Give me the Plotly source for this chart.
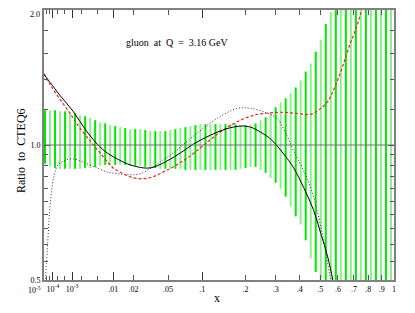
import numpy as np
import plotly.graph_objects as go

# ---------------- data ----------------
band_x = [1.44e-5, 5.64e-5, 1.436e-4, 2.93e-4, 5.20e-4, 8.42e-4, 1.275e-3, 1.836e-3,
          2.542e-3, 3.408e-3, 4.452e-3, 5.690e-3, 7.138e-3, 8.813e-3, 0.010733, 0.012912,
          0.015366, 0.018115, 0.021173, 0.024556, 0.028284, 0.032370, 0.036830, 0.041684,
          0.046948, 0.052636, 0.058765, 0.065355, 0.072418, 0.079968, 0.088032, 0.096621,
          0.10575, 0.11543, 0.12569, 0.13654, 0.14799, 0.16008, 0.17280, 0.18617,
          0.20022, 0.21496, 0.23040, 0.24658, 0.26348, 0.28115, 0.29957, 0.31881,
          0.33884, 0.35969, 0.38138, 0.40392, 0.42733, 0.45164, 0.47686, 0.50299,
          0.53006, 0.55807, 0.58707, 0.61704, 0.64803, 0.68003, 0.71307, 0.74716,
          0.78232, 0.81856, 0.85591, 0.89438, 0.93400, 0.97476]
band_hi = [1.195, 1.195, 1.195, 1.189, 1.189, 1.183, 1.177, 1.165,
           1.159, 1.148, 1.136, 1.124, 1.118, 1.107, 1.102, 1.096,
           1.091, 1.085, 1.085, 1.085, 1.080, 1.074, 1.074, 1.074,
           1.074, 1.080, 1.085, 1.091, 1.096, 1.102, 1.107, 1.113,
           1.113, 1.113, 1.113, 1.113, 1.113, 1.113, 1.113, 1.107,
           1.107, 1.107, 1.118, 1.136, 1.153, 1.177, 1.214, 1.245,
           1.271, 1.304, 1.344, 1.393, 1.458, 1.519, 1.615, 1.717,
           1.862, 1.980, 2.5, 2.5, 2.5, 2.5, 2.5, 2.5,
           2.5, 2.5, 2.5, 2.5, 2.5, 2.5]
band_lo = [0.908, 0.894, 0.889, 0.885, 0.885, 0.885, 0.885, 0.885,
           0.889, 0.889, 0.894, 0.899, 0.903, 0.903, 0.903, 0.903,
           0.903, 0.899, 0.899, 0.899, 0.894, 0.889, 0.889, 0.885,
           0.885, 0.885, 0.885, 0.885, 0.880, 0.880, 0.880, 0.880,
           0.880, 0.880, 0.880, 0.880, 0.880, 0.880, 0.880, 0.885,
           0.889, 0.894, 0.894, 0.880, 0.867, 0.845, 0.824, 0.799,
           0.767, 0.729, 0.693, 0.665, 0.613, 0.559, 0.521, 0.4,
           0.4, 0.4, 0.4, 0.4, 0.4, 0.4, 0.4, 0.4,
           0.4, 0.4, 0.4, 0.4, 0.4, 0.4]

solid_x = [1e-5, 5.7e-5, 2.9e-4, 1.09e-3, 2.54e-3, 4.92e-3, 7.79e-3, 0.01157, 0.01643,
           0.0225, 0.0324, 0.0470, 0.0654, 0.0848, 0.1155, 0.148, 0.1862, 0.215, 0.2466,
           0.2812, 0.3308, 0.3726, 0.418, 0.4668, 0.5031, 0.5413, 0.5753]
solid_y = [1.436, 1.379, 1.290, 1.189, 1.085, 1.005, 0.960, 0.931, 0.908,
           0.894, 0.889, 0.917, 0.960, 1.005, 1.052, 1.085, 1.102, 1.096, 1.068,
           1.031, 0.955, 0.889, 0.803, 0.714, 0.635, 0.562, 0.487]

dot_x = [1.43e-5, 2.7e-5, 4.5e-5, 7.0e-5, 1.22e-4, 2.25e-4, 4.68e-4, 1.09e-3, 2.54e-3,
         4.92e-3, 7.79e-3, 0.01157, 0.0181, 0.0246, 0.0324, 0.0417, 0.0563, 0.0848,
         0.130, 0.178, 0.215, 0.2705, 0.307, 0.339, 0.3726, 0.413, 0.4518, 0.4873,
         0.519, 0.552, 0.5697]
dot_y = [0.487, 0.568, 0.679, 0.771, 0.854, 0.903, 0.922, 0.931, 0.912,
         0.889, 0.871, 0.863, 0.858, 0.863, 0.885, 0.917, 0.960, 1.047,
         1.148, 1.207, 1.207, 1.177, 1.142, 1.063, 0.970, 0.885, 0.803, 0.703,
         0.613, 0.513, 0.475]

dash_x = [1e-5, 5.7e-5, 2.9e-4, 8.4e-4, 1.48e-3, 3.41e-3, 5.69e-3, 9.94e-3, 0.01435,
          0.0199, 0.02675, 0.035, 0.0448, 0.0588, 0.0754, 0.0966, 0.1215, 0.1528,
          0.1862, 0.2242, 0.2635, 0.3189, 0.3814, 0.4518, 0.5031, 0.5413, 0.5753,
          0.6172, 0.648, 0.6802, 0.7133, 0.7405, 0.7613]
dash_y = [1.443, 1.364, 1.264, 1.177, 1.113, 1.021, 0.960, 0.889, 0.863,
          0.845, 0.841, 0.850, 0.871, 0.899, 0.936, 0.985, 1.041, 1.096,
          1.136, 1.165, 1.177, 1.183, 1.177, 1.171, 1.207, 1.251, 1.330,
          1.458, 1.574, 1.699, 1.815, 1.939, 2.06]

xtick_vals = [1e-5, 1e-4, 1e-3, 0.01, 0.02, 0.05, 0.1, 0.2, 0.3, 0.4, 0.5, 0.6, 0.7, 0.8, 0.9, 1.0]
xtick_text = ["", "10<sup>-4</sup>", "10<sup>-3</sup>", ".01", ".02", ".05", ".1",
              ".2", ".3", ".4", ".5", ".6", ".7", ".8", ".9", "1"]
xfirst_label = "10<sup>-5</sup>"
xminor_vals = [2e-5, 5e-5, 2e-4, 5e-4, 2e-3, 5e-3]
xdecade_vals = [1e-4, 1e-3, 0.01, 0.1]

ytick_vals = [0.5, 1.0, 2.0]
ytick_text = ["0.5", "1.0", ""]
ytop_label = "2.0"
yminor_vals = [0.55, 0.6, 0.65, 0.7, 0.75, 0.8, 0.85, 0.9, 0.95, 1.2, 1.4, 1.6, 1.8]

title_text = "gluon  at  Q  =  3.16 GeV"
ylabel = "Ratio  to  CTEQ6"
xlabel = "x"


# x axis of the original uses an x^(1/3) scale
def sc(v):
    return np.cbrt(np.asarray(v, dtype=float))


SERIF = "Liberation Serif, DejaVu Serif, serif"

fig = go.Figure()

# error band drawn as vertical bars, alternating bright / light green
for parity, col in ((1, "rgb(140,240,140)"), (0, "rgb(0,232,0)")):
    xs, ys = [], []
    for i, (bx, lo, hi) in enumerate(zip(sc(band_x), band_lo, band_hi)):
        if i % 2 == parity:
            xs += [bx, bx, None]
            ys += [lo, hi, None]
    fig.add_trace(go.Scatter(x=xs, y=ys, mode="lines",
                             line=dict(color=col, width=2),
                             hoverinfo="skip", showlegend=False))

fig.add_hline(y=1.0, line=dict(color="#707070", width=1))

fig.add_trace(go.Scatter(x=sc(dot_x), y=dot_y, mode="lines",
                         line=dict(color="#303030", width=1, dash="1px,2px", shape="spline"),
                         showlegend=False))
fig.add_trace(go.Scatter(x=sc(dash_x), y=dash_y, mode="lines",
                         line=dict(color="rgb(235,40,40)", width=1.2, dash="3px,2px", shape="spline"),
                         showlegend=False))
fig.add_trace(go.Scatter(x=sc(solid_x), y=solid_y, mode="lines",
                         line=dict(color="black", width=1, shape="spline"),
                         showlegend=False))

# overlay axis only for longer decade ticks
fig.add_trace(go.Scatter(x=[], y=[], xaxis="x2", showlegend=False))

xr = [float(sc(1e-5)), 1.0]
# page body has an 8px margin; figure is sized/offset to compensate
fig.update_layout(
    template="none",
    width=407, height=305,
    margin=dict(l=36, r=21, t=2, b=33, autoexpand=False),
    paper_bgcolor="white", plot_bgcolor="white",
    font=dict(family=SERIF, color="black", size=8),
    showlegend=False,
    xaxis=dict(range=xr, tickmode="array", tickvals=sc(xtick_vals), ticktext=xtick_text,
               ticks="inside", ticklen=5, tickwidth=1, tickcolor="#555", tickangle=0,
               automargin=False, ticklabeloverflow="allow",
               showgrid=False, zeroline=False, showline=True, linecolor="#808080",
               linewidth=2, mirror="ticks", tickfont=dict(size=8, family=SERIF),
               minor=dict(tickmode="array", tickvals=sc(xminor_vals), ticks="inside",
                          ticklen=4, tickcolor="#555", showgrid=False)),
    xaxis2=dict(range=xr, overlaying="x", anchor="y", tickmode="array", automargin=False,
                tickvals=sc(xdecade_vals), ticks="inside", ticklen=8, tickwidth=1,
                tickcolor="#333", showticklabels=False, showgrid=False, zeroline=False,
                showline=False, mirror="ticks"),
    yaxis=dict(type="log", range=[np.log10(0.5), np.log10(2.0)], tickmode="array",
               tickvals=ytick_vals, ticktext=ytick_text, ticks="inside", ticklen=6,
               tickwidth=1, tickcolor="#444", showgrid=False, zeroline=False,
               automargin=False, ticklabeloverflow="allow",
               showline=True, linecolor="#808080", linewidth=2, mirror="ticks",
               tickfont=dict(size=8, family=SERIF),
               minor=dict(tickmode="array", tickvals=yminor_vals, ticks="inside",
                          ticklen=4, tickcolor="#555", showgrid=False)),
    annotations=[
        dict(text=title_text, xref="paper", yref="paper", x=0.38, y=0.907,
             showarrow=False, font=dict(size=10, family=SERIF, color="black")),
        dict(text=ylabel, xref="paper", yref="paper", x=-0.091, y=0.478, textangle=-90,
             showarrow=False, font=dict(size=12, family=SERIF, color="black")),
        dict(text=xlabel, xref="paper", yref="paper", x=0.494, y=-0.10,
             showarrow=False, font=dict(size=12, family=SERIF, color="black")),
        dict(text=xfirst_label, xref="paper", yref="paper", x=0, y=-0.037,
             xanchor="right", yanchor="middle", xshift=-1, showarrow=False,
             font=dict(size=8, family=SERIF, color="black")),
        dict(text=ytop_label, xref="paper", yref="paper", x=0, y=1,
             xanchor="right", yanchor="top", xshift=-2, yshift=2, showarrow=False,
             font=dict(size=8, family=SERIF, color="black")),
    ],
)

fig.write_html("out.html")
